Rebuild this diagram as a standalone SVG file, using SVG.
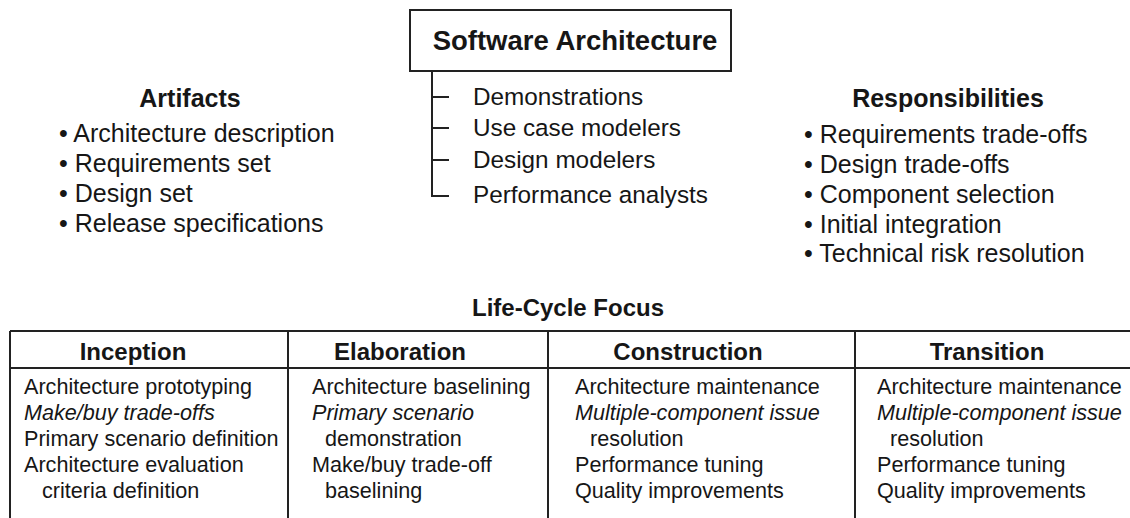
<svg xmlns="http://www.w3.org/2000/svg" width="1130" height="518" viewBox="0 0 1130 518">
<style>
text{font-family:"Liberation Sans",Arial,sans-serif;fill:#161616}
.t{font-size:27.5px;font-weight:bold}
.h{font-size:25px;font-weight:bold}
.l{font-size:25px}
.r{font-size:24.3px}
.th{font-size:24px;font-weight:bold}
.b{font-size:21.6px}
.i{font-style:italic}
.ln{stroke:#222;stroke-width:2;fill:none}
</style>
<rect width="1130" height="518" fill="#fff"/>
<g id="software-architecture">
<rect class="ln" x="410" y="10" width="321" height="61"/>
<text class="t" x="575" y="50" text-anchor="middle">Software Architecture</text>
</g>
<g id="connectors">
<path class="ln" d="M432 71V196H449M432 97H449M432 128H449M432 160H449"/>
</g>
<g id="roles">
<text class="r" x="473" y="105">Demonstrations</text>
<text class="r" x="473" y="136">Use case modelers</text>
<text class="r" x="473" y="168">Design modelers</text>
<text class="r" x="473" y="203">Performance analysts</text>
</g>
<g id="artifacts">
<text class="h" x="190" y="107" text-anchor="middle">Artifacts</text>
<text class="l" x="59" y="142">• Architecture description</text>
<text class="l" x="59" y="172">• Requirements set</text>
<text class="l" x="59" y="202">• Design set</text>
<text class="l" x="59" y="232">• Release specifications</text>
</g>
<g id="responsibilities">
<text class="h" x="948" y="107" text-anchor="middle">Responsibilities</text>
<text class="l" x="804" y="143">• Requirements trade-offs</text>
<text class="l" x="804" y="173">• Design trade-offs</text>
<text class="l" x="804" y="203">• Component selection</text>
<text class="l" x="804" y="233">• Initial integration</text>
<text class="l" x="804" y="262">• Technical risk resolution</text>
</g>
<g id="life-cycle-focus">
<text class="th" x="568" y="316" text-anchor="middle">Life-Cycle Focus</text>
<path class="ln" d="M10 331H1130M10 368H1130M10 331V518M288 331V518M548 331V518M855 331V518"/>
</g>
<g id="inception">
<text class="th" x="133" y="360" text-anchor="middle">Inception</text>
<text class="b" x="24" y="394">Architecture prototyping</text>
<text class="b i" x="24" y="420">Make/buy trade-offs</text>
<text class="b" x="24" y="446">Primary scenario definition</text>
<text class="b" x="24" y="472">Architecture evaluation</text>
<text class="b" x="42" y="498">criteria definition</text>
</g>
<g id="elaboration">
<text class="th" x="400" y="360" text-anchor="middle">Elaboration</text>
<text class="b" x="312" y="394">Architecture baselining</text>
<text class="b i" x="312" y="420">Primary scenario</text>
<text class="b" x="325" y="446">demonstration</text>
<text class="b" x="312" y="472">Make/buy trade-off</text>
<text class="b" x="325" y="498">baselining</text>
</g>
<g id="construction">
<text class="th" x="688" y="360" text-anchor="middle">Construction</text>
<text class="b" x="575" y="394">Architecture maintenance</text>
<text class="b i" x="575" y="420">Multiple-component issue</text>
<text class="b" x="590" y="446">resolution</text>
<text class="b" x="575" y="472">Performance tuning</text>
<text class="b" x="575" y="498">Quality improvements</text>
</g>
<g id="transition">
<text class="th" x="987" y="360" text-anchor="middle">Transition</text>
<text class="b" x="877" y="394">Architecture maintenance</text>
<text class="b i" x="877" y="420">Multiple-component issue</text>
<text class="b" x="890" y="446">resolution</text>
<text class="b" x="877" y="472">Performance tuning</text>
<text class="b" x="877" y="498">Quality improvements</text>
</g>
</svg>
